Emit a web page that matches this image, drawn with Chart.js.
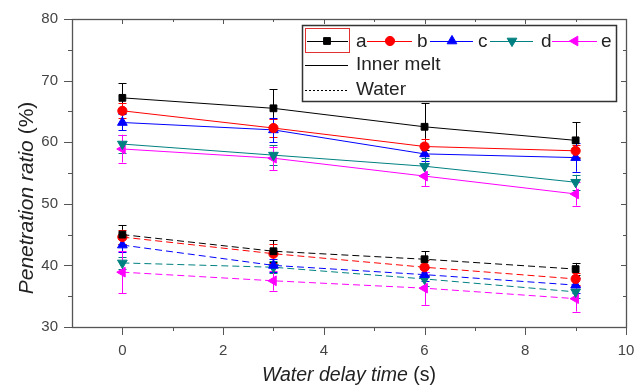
<!DOCTYPE html>
<html><head><meta charset="utf-8">
<script src="https://cdn.jsdelivr.net/npm/chart.js@4/dist/chart.umd.min.js"></script>
<style>html,body{margin:0;padding:0;background:#fff}</style>
</head><body>
<canvas id="c" width="636" height="386"></canvas>
<script>
// ---- data ----
const delayTimes = [0, 3, 6, 9];
const xTickLabels = [0, 2, 4, 6, 8, 10];
const yTickLabels = [30, 40, 50, 60, 70, 80];
const seriesNames = ['a', 'b', 'c', 'd', 'e'];

const innerA = [67.2, 65.5, 62.5, 60.3];
const innerB = [65.1, 62.3, 59.3, 58.6];
const innerC = [63.2, 62.0, 58.1, 57.5];
const innerD = [59.7, 57.9, 56.1, 53.5];
const innerE = [58.9, 57.4, 54.5, 51.6];
const innerErrA = [2.4, 3.1, 3.8, 2.9];
const innerErrB = [1.2, 1.5, 1.3, 1.0];
const innerErrC = [1.3, 2.0, 1.2, 2.3];
const innerErrD = [1.5, 1.6, 1.3, 1.2];
const innerErrE = [2.2, 1.9, 1.6, 1.9];

const waterA = [45.0, 42.3, 41.0, 39.4];
const waterB = [44.6, 41.9, 39.7, 37.8];
const waterC = [43.3, 40.0, 38.5, 36.8];
const waterD = [40.4, 39.7, 37.8, 35.7];
const waterE = [38.9, 37.5, 36.3, 34.6];
const waterErrA = [1.5, 1.8, 1.3, 1.0];
const waterErrB = [1.2, 1.5, 1.2, 1.0];
const waterErrC = [1.1, 1.0, 1.0, 1.2];
const waterErrD = [1.0, 1.0, 1.2, 1.0];
const waterErrE = [3.4, 1.6, 2.7, 2.1];

// ---- styles ----
const FONT = '"Liberation Sans", Arial, sans-serif';
const colors = ['#000000', '#ff0000', '#0000ff', '#008080', '#ff00ff'];
const pStyles = [
  {style: 'rect', rot: 0, r: 4.8},
  {style: 'circle', rot: 0, r: 4.6},
  {style: 'triangle', rot: 0, r: 5.6},
  {style: 'triangle', rot: 180, r: 5.6},
  {style: 'triangle', rot: 270, r: 5.6}
];
const innerSets = [innerA, innerB, innerC, innerD, innerE];
const innerErrs = [innerErrA, innerErrB, innerErrC, innerErrD, innerErrE];
const waterSets = [waterA, waterB, waterC, waterD, waterE];
const waterErrs = [waterErrA, waterErrB, waterErrC, waterErrD, waterErrE];

const datasets = [];
function addSet(vals, errs, i, dashed) {
  datasets.push({
    label: seriesNames[i] + (dashed ? ' water' : ' inner'),
    data: delayTimes.map((x, k) => ({x: x, y: vals[k]})),
    errors: errs,
    borderColor: colors[i],
    backgroundColor: colors[i],
    borderWidth: 1,
    borderDash: dashed ? [7, 4] : [],
    pointStyle: pStyles[i].style,
    rotation: pStyles[i].rot,
    pointRotation: pStyles[i].rot,
    pointRadius: pStyles[i].r,
    pointBorderWidth: 1,
    pointBorderColor: colors[i],
    pointBackgroundColor: colors[i],
    tension: 0,
    fill: false
  });
}
for (let i = 0; i < 5; i++) addSet(innerSets[i], innerErrs[i], i, false);
for (let i = 0; i < 5; i++) addSet(waterSets[i], waterErrs[i], i, true);

const errorBars = {
  id: 'errorBars',
  beforeDatasetsDraw(chart) {
    const ctx = chart.ctx, ys = chart.scales.y;
    chart.data.datasets.forEach((ds, di) => {
      const meta = chart.getDatasetMeta(di);
      ctx.save();
      ctx.strokeStyle = ds.borderColor;
      ctx.lineWidth = 1;
      meta.data.forEach((pt, k) => {
        const v = ds.data[k].y, e = ds.errors[k];
        const yt = ys.getPixelForValue(v + e), yb = ys.getPixelForValue(v - e);
        const x = Math.round(pt.x) + 0.5;
        ctx.beginPath();
        ctx.moveTo(x, yt); ctx.lineTo(x, yb);
        ctx.moveTo(x - 4, Math.round(yt) + 0.5); ctx.lineTo(x + 4, Math.round(yt) + 0.5);
        ctx.moveTo(x - 4, Math.round(yb) + 0.5); ctx.lineTo(x + 4, Math.round(yb) + 0.5);
        ctx.stroke();
      });
      ctx.restore();
    });
  }
};

const frame = {
  id: 'frame',
  afterDraw(chart) {
    const ctx = chart.ctx, a = chart.chartArea, xs = chart.scales.x, ys = chart.scales.y;
    ctx.save();
    ctx.strokeStyle = '#555';
    ctx.lineWidth = 1.3;
    ctx.strokeRect(Math.round(a.left) + 0.5, Math.round(a.top) + 0.5, Math.round(a.right - a.left), Math.round(a.bottom - a.top));
    ctx.lineWidth = 1;
    ctx.beginPath();
    for (let v = 30; v <= 80; v += 5) {
      const y = Math.round(ys.getPixelForValue(v)) + 0.5;
      const major = v % 10 === 0;
      ctx.moveTo(a.left, y); ctx.lineTo(a.left - (major ? 8 : 4), y);
      ctx.moveTo(a.right, y); ctx.lineTo(a.right - (major ? 5 : 3), y);
    }
    for (let v = 0; v <= 10; v += 1) {
      const x = Math.round(xs.getPixelForValue(v)) + 0.5;
      const major = v % 2 === 0;
      ctx.moveTo(x, a.bottom); ctx.lineTo(x, a.bottom + (major ? 8 : 4));
      ctx.moveTo(x, a.top); ctx.lineTo(x, a.top + (major ? 5 : 3));
    }
    ctx.stroke();

    // axis titles
    ctx.fillStyle = '#222';
    ctx.textBaseline = 'middle';
    const drawMixed = (parts, cx, cy, size) => {
      let total = 0;
      parts.forEach(p => { ctx.font = p[1] + ' ' + size + 'px ' + FONT; p.w = ctx.measureText(p[0]).width; total += p.w; });
      let x = cx - total / 2;
      ctx.textAlign = 'left';
      parts.forEach(p => { ctx.font = p[1] + ' ' + size + 'px ' + FONT; ctx.fillText(p[0], x, cy); x += p.w; });
    };
    drawMixed([['Water delay time', 'italic'], [' (s)', 'normal']], (a.left + a.right) / 2, 376, 19.5);
    ctx.save();
    ctx.translate(27, 198);
    ctx.rotate(-Math.PI / 2);
    drawMixed([['Penetration ratio', 'italic'], [' (%)', 'normal']], 0, 0, 21);
    ctx.restore();

    // legend
    ctx.fillStyle = '#fff';
    ctx.fillRect(302, 25, 314, 76);
    ctx.strokeStyle = '#333';
    ctx.lineWidth = 1.5;
    ctx.strokeRect(302.5, 25.5, 314, 76);
    const items = [
      {l: 307, r: 348, m: 327, t: 356},
      {l: 367, r: 412, m: 390, t: 417},
      {l: 430, r: 473, m: 452, t: 478},
      {l: 490, r: 533, m: 512, t: 541},
      {l: 552, r: 597, m: 575, t: 601}
    ];
    const ly = 41;
    ctx.font = '19px ' + FONT;
    ctx.textAlign = 'left';
    items.forEach((it, i) => {
      ctx.strokeStyle = colors[i];
      ctx.fillStyle = colors[i];
      ctx.lineWidth = 1;
      ctx.beginPath(); ctx.moveTo(it.l, ly + 0.5); ctx.lineTo(it.r, ly + 0.5); ctx.stroke();
      Chart.helpers.drawPoint(ctx, {pointStyle: pStyles[i].style, rotation: pStyles[i].rot, radius: pStyles[i].r, borderWidth: 1}, it.m, ly);
      ctx.fillStyle = '#222';
      ctx.fillText(seriesNames[i], it.t, ly + 1);
    });
    ctx.strokeStyle = '#e03030';
    ctx.lineWidth = 1;
    ctx.strokeRect(305.5, 28.5, 44, 24);
    ctx.strokeStyle = '#000';
    ctx.beginPath(); ctx.moveTo(305, 65.5); ctx.lineTo(348, 65.5); ctx.stroke();
    ctx.setLineDash([2, 2]);
    ctx.beginPath(); ctx.moveTo(305, 90.5); ctx.lineTo(348, 90.5); ctx.stroke();
    ctx.setLineDash([]);
    ctx.fillStyle = '#222';
    ctx.fillText('Inner melt', 356, 65);
    ctx.fillText('Water', 356, 90);
    ctx.restore();
  }
};

new Chart(document.getElementById('c'), {
  type: 'line',
  data: {datasets: datasets},
  options: {
    responsive: false,
    animation: false,
    devicePixelRatio: 1,
    layout: {padding: {left: 0, right: 10, top: 19, bottom: 0}},
    plugins: {legend: {display: false}, tooltip: {enabled: false}},
    scales: {
      x: {
        type: 'linear', min: -1, max: 10,
        afterFit(s) { s.height = 59; s.paddingLeft = 0; s.paddingRight = 0; },
        afterBuildTicks(s) { s.ticks = xTickLabels.map(v => ({value: v})); },
        grid: {display: false, drawTicks: false},
        border: {display: false},
        ticks: {padding: 15, color: '#444', font: {family: FONT, size: 15}}
      },
      y: {
        type: 'linear', min: 30, max: 80,
        afterFit(s) { s.width = 72; s.paddingTop = 0; s.paddingBottom = 0; },
        afterBuildTicks(s) { s.ticks = yTickLabels.map(v => ({value: v})); },
        grid: {display: false, drawTicks: false},
        border: {display: false},
        ticks: {padding: 14, color: '#444', font: {family: FONT, size: 15}}
      }
    }
  },
  plugins: [errorBars, frame]
});
</script>
</body></html>
